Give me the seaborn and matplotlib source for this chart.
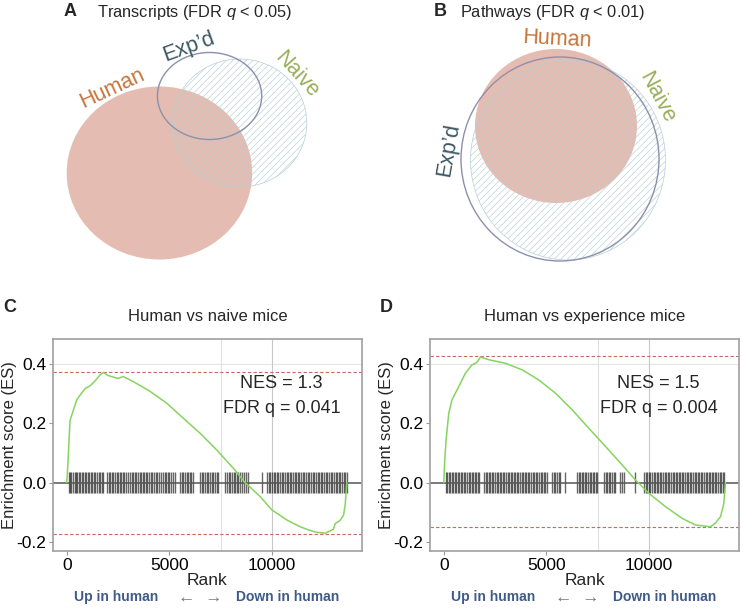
import numpy as np
import pandas as pd
import seaborn as sns
import matplotlib.pyplot as plt
from matplotlib.patches import Ellipse

# running enrichment score (rank, ES)
rank_naive = [0, 50, 160, 325, 490, 700, 900, 1140, 1400, 1630, 1790, 2000, 2280, 2500,
              2760, 3000, 3250, 3650, 4065, 4880, 5690, 6500, 7317, 8130, 8700, 9430,
              10000, 10730, 11380, 11800, 12200, 12600, 13000, 13100, 13330, 13500,
              13580, 13660]
es_naive = [0.0, 0.054, 0.21, 0.245, 0.28, 0.30, 0.318, 0.327, 0.345, 0.364, 0.372,
            0.362, 0.356, 0.352, 0.358, 0.350, 0.341, 0.325, 0.308, 0.268, 0.217, 0.167,
            0.11, 0.048, 0.0, -0.047, -0.092, -0.126, -0.149, -0.160, -0.168, -0.171,
            -0.158, -0.138, -0.128, -0.110, -0.075, 0.0]

rank_exp = [0, 50, 115, 245, 405, 730, 1060, 1380, 1600, 1790, 2200, 3010, 3820, 4630,
            5450, 6260, 7070, 7890, 8700, 9350, 10000, 10810, 11630, 12280, 12760,
            13010, 13250, 13500, 13660, 13740]
es_exp = [0.0, 0.077, 0.144, 0.234, 0.28, 0.324, 0.37, 0.398, 0.405, 0.424, 0.415,
          0.403, 0.381, 0.347, 0.302, 0.246, 0.184, 0.122, 0.06, 0.009, -0.036, -0.081,
          -0.121, -0.143, -0.147, -0.149, -0.137, -0.115, -0.07, 0.0]

max_naive, min_naive = 0.374, -0.174
max_exp, min_exp = 0.426, -0.151

# gene set hit positions (rank)
hits_naive = [100, 160, 230, 290, 380, 430, 520, 600, 650, 740, 810, 870, 960, 1030,
              1100, 1180, 1240, 1330, 1400, 1480, 1550, 1620, 1700, 1760,
              1970, 2050, 2120, 2200, 2260, 2350, 2430, 2500, 2580, 2650, 2740, 2810,
              2900, 2980, 3090, 3160, 3250, 3310, 3400, 3480, 3550, 3620, 3700, 3790,
              3850, 3930, 4010, 4100, 4180, 4260, 4330, 4420, 4520, 4600, 4680, 4770,
              4850, 4930, 5010, 5100, 5180, 5270, 5530, 5600, 5690, 5760, 5850, 5920,
              6010, 6080, 6150, 6500, 6580, 6660, 6740, 6820, 6900, 6990, 7070, 7150,
              7230, 7310, 7380, 7720, 7800, 7890, 7970, 8050, 8140, 8220, 8300, 8350,
              8460, 8550, 8640, 8720, 8840, 9527, 9780, 9850, 9930, 10010, 10090,
              10160, 10250, 10320, 10400, 10480, 10560, 10640, 10720, 10790, 10880,
              10950, 11030, 11120, 11190, 11270, 11350, 11430, 11520, 11590, 11670,
              11750, 11830, 11900, 11990, 12070, 12150, 12230, 12310, 12390, 12470,
              12550, 12630, 12710, 12790, 12870, 12950, 13030, 13110, 13190, 13270,
              13350, 13430, 13510, 13590, 13670]
hits_exp = [100, 170, 240, 300, 390, 450, 530, 610, 680, 750, 830, 900, 980, 1060,
            1130, 1210, 1290, 1360, 1440, 1510, 1590, 1660, 1720, 1970, 2040, 2120,
            2190, 2270, 2350, 2420, 2500, 2580, 2650, 2730, 2800, 2880, 2960, 3030,
            3110, 3190, 3260, 3340, 3410, 3490, 3570, 3640, 3720, 3800, 3870, 3950,
            4030, 4100, 4180, 4260, 4330, 4410, 4490, 4560, 4640, 4720, 4790, 4870,
            4950, 5030, 5290, 5370, 5450, 5530, 5600, 5670, 5917, 6500, 6580, 6650,
            6730, 6810, 6880, 6960, 7040, 7110, 7190, 7270, 7340, 7420, 7480, 7820,
            7900, 7980, 8060, 8130, 8210, 8290, 8350, 8600, 8680, 8790, 9332, 9780,
            9850, 9930, 10010, 10080, 10160, 10240, 10310, 10390, 10470, 10540, 10620,
            10700, 10770, 10850, 10930, 11000, 11080, 11160, 11230, 11310, 11390,
            11460, 11540, 11620, 11690, 11770, 11850, 11920, 12000, 12080, 12150,
            12230, 12310, 12380, 12460, 12540, 12610, 12690, 12770, 12840, 12920,
            13000, 13070, 13150, 13230, 13300, 13380, 13460, 13530, 13610, 13690]

nes_vals = ['1.3', '1.5']
fdr_vals = ['0.041', '0.004']
gsea_titles = ['Human vs naive mice', 'Human vs experience mice']

# euler diagrams: sets, center x, center y, width, height (panel pixel units)
venn_sets = ['Human', 'Exp\u2019d', 'Naive']
venn_a = {'x': [159, 209, 239], 'y': [173, 96, 123], 'w': [185, 104, 134], 'h': [173, 87, 128]}
venn_b = {'x': [184, 188, 196], 'y': [126, 159, 160], 'w': [162, 198, 195], 'h': [154, 204, 200]}

sns.set_theme(style='white')
plt.rcParams['font.family'] = ['Liberation Sans', 'DejaVu Sans']
plt.rcParams['mathtext.fontset'] = 'custom'
plt.rcParams['mathtext.it'] = 'Liberation Sans:italic'
plt.rcParams['mathtext.rm'] = 'Liberation Sans'
plt.rcParams['axes.unicode_minus'] = False
plt.rcParams['hatch.linewidth'] = 0.45

fig = plt.figure(figsize=(7.43, 6.1), dpi=100)

human_col = '#e4bcb1'
hatch_col = '#b6d0d5'
exp_col = '#8c90ad'
lab_cols = ['#c8743a', '#3c5862', '#9aad5c']


def draw_venn(ax, v, labels):
    ax.set_xlim(0, 371)
    ax.set_ylim(305, 0)
    ax.axis('off')
    ax.add_patch(Ellipse((v['x'][0], v['y'][0]), v['w'][0], v['h'][0],
                         facecolor=human_col, edgecolor='none'))
    ax.add_patch(Ellipse((v['x'][2], v['y'][2]), v['w'][2], v['h'][2],
                         facecolor='none', edgecolor=hatch_col, hatch='/////', lw=0.5))
    ax.add_patch(Ellipse((v['x'][1], v['y'][1]), v['w'][1], v['h'][1],
                         facecolor='none', edgecolor=exp_col, lw=1.0))
    for (x, y, rot), name, c in zip(labels, venn_sets, lab_cols):
        ax.text(x, y, name, rotation=rot, color=c, fontsize=15.5,
                ha='center', va='center', rotation_mode='anchor')


ax_a = fig.add_axes([0, 0.5, 372 / 743, 0.5])
draw_venn(ax_a, venn_a, [(112, 88, 25), (188, 47, 20), (296, 75, -48)])
ax_a.text(63, 12, 'A', fontsize=13, fontweight='bold', va='center')
ax_a.text(97, 12, 'Transcripts (FDR $q$ < 0.05)', fontsize=11.8, va='center')

ax_b = fig.add_axes([372 / 743, 0.5, 371 / 743, 0.5])
draw_venn(ax_b, venn_b, [(185, 39, -3), (77, 150, 80), (285, 98, -62)])
ax_b.text(62, 12, 'B', fontsize=13, fontweight='bold', va='center')
ax_b.text(88, 12, 'Pathways (FDR $q$ < 0.01)', fontsize=11.8, va='center')

gsea = [(rank_naive, es_naive, hits_naive, max_naive, min_naive),
        (rank_exp, es_exp, hits_exp, max_exp, min_exp)]
lefts = [53 / 743, 430 / 743]
letters = ['C', 'D']

for i, (rk, es, hits, mx, mn) in enumerate(gsea):
    ax = fig.add_axes([lefts[i], 1 - 551 / 610, 309 / 743, 212 / 610])
    ax.set_xlim(-670, 14400)
    ax.set_ylim(-0.231, 0.485)
    ax.axhline(0.4, color='#e4e4e4', lw=0.8, zorder=0)
    ax.axvline(7500, color='#e0e0e0', lw=0.8, zorder=0)
    ax.axvline(10000, color='#c8c8c8', lw=0.8, zorder=0)
    ax.axhline(mx, color='#c46a5e', ls='--', lw=0.8, dashes=(3, 2))
    ax.axhline(mn, color='#c46a5e', ls='--', lw=0.8, dashes=(3, 2))
    ax.vlines(hits, -0.035, 0.035, color='black', alpha=0.6, lw=1.0)
    ax.axhline(0, color='#555555', lw=1.1)
    df = pd.DataFrame({'rank': rk, 'es': es})
    sns.lineplot(data=df, x='rank', y='es', ax=ax, color='#86d45e', lw=1.1)
    ax.set_xticks([0, 5000, 10000])
    ax.set_yticks([-0.2, 0.0, 0.2, 0.4])
    ax.set_yticklabels(['-0.2', '0.0', '0.2', '0.4'])
    ax.tick_params(labelsize=12.5, length=3, width=0.8, bottom=True, left=True,
                   pad=2, colors='#999999', labelcolor='black')
    for s in ax.spines.values():
        s.set_color('#a0a0a0')
        s.set_linewidth(1.2)
    ax.set_xlabel('Rank', fontsize=12.5, labelpad=0)
    ax.set_ylabel('Enrichment score (ES)', fontsize=12)
    ax.yaxis.set_label_coords(-0.116, 0.5)
    ax.text(0.74, 0.79, 'NES = ' + nes_vals[i], transform=ax.transAxes,
            fontsize=13, ha='center', va='center')
    ax.text(0.74, 0.67, 'FDR q = ' + fdr_vals[i], transform=ax.transAxes,
            fontsize=13, ha='center', va='center')
    ax.set_title(gsea_titles[i], fontsize=12, pad=13)
    x0 = (lefts[i] * 743)
    fig.text((x0 - 50) / 743, 1 - 307 / 610, letters[i], fontsize=13,
             fontweight='bold', va='center')
    fig.text((x0 + 21) / 743, 1 - 597 / 610, 'Up in human', fontsize=10,
             fontweight='bold', color='#3d5a8a', va='center')
    fig.text((x0 + 147) / 743, 1 - 597 / 610, '\u2190  \u2192', fontsize=12.5,
             color='#6a7a94', va='center', ha='center')
    fig.text((x0 + 183) / 743, 1 - 597 / 610, 'Down in human', fontsize=10,
             fontweight='bold', color='#3d5a8a', va='center')

fig.savefig('out.png', dpi=100)
